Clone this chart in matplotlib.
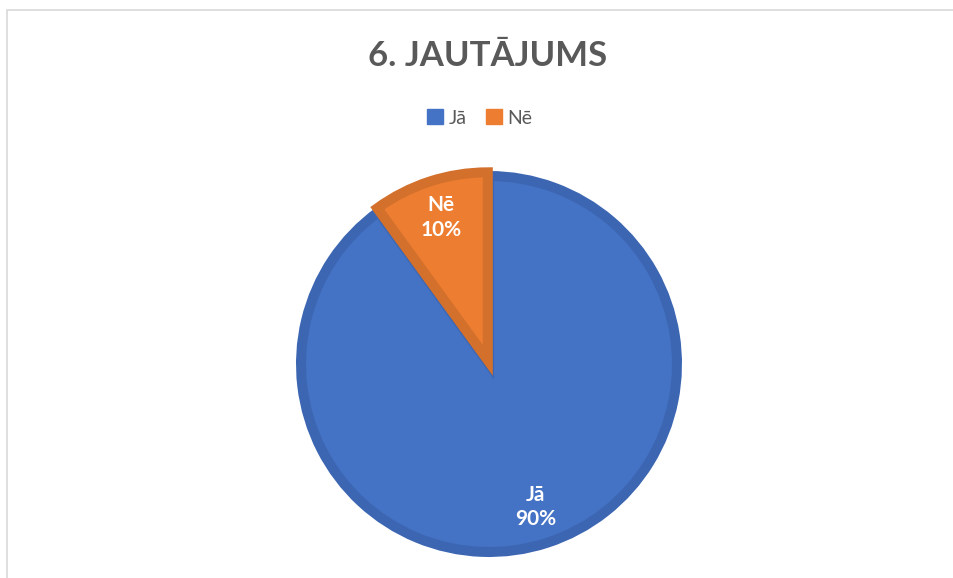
import matplotlib.pyplot as plt
from matplotlib.patches import Rectangle, Patch

plt.rcParams['font.family'] = ['Lato', 'DejaVu Sans']

labels = ["Jā", "Nē"]
values = [90, 10]
colors = ["#4472C4", "#ED7D31"]
edge_colors = ["#3C66B2", "#D2702C"]
title = "6. JAUTĀJUMS"

W, H = 954, 578
fig = plt.figure(figsize=(W / 100, H / 100), dpi=100)

# chart area frame (cut off at right and bottom)
fig.add_artist(Rectangle((7 / W, -0.1), 1.1, 1.1 - 10.5 / H,
                         transform=fig.transFigure, fill=False,
                         edgecolor="#D9D9D9", linewidth=1.2))

fig.text(488 / W, 1 - 56 / H, title, ha="center", va="center",
         fontsize=25, fontweight="bold", color="#595959")

cx, cy, R = 489, 364, 193
border_px = 10
ax = fig.add_axes([(cx - R) / W, (H - cy - R) / H, 2 * R / W, 2 * R / H])

wedges, _, texts = ax.pie(values, colors=colors, startangle=90, counterclock=False,
                          explode=[0, 0.02], radius=1 - border_px / 2 / R,
                          autopct=lambda p: "", pctdistance=0.8,
                          textprops=dict(color="white"))
for w, ec in zip(wedges, edge_colors):
    w.set_edgecolor(ec)
    w.set_linewidth(border_px * 0.72)
    w.set_joinstyle("miter")

for t, lab, v in zip(texts, labels, values):
    t.set_text(f"{lab}\n{v}%")
    t.set_fontsize(15)
    t.set_fontweight("bold")
    t.set_linespacing(1.3)
    t.set_ha("center")
    t.set_va("center")

ax.set_xlim(-1, 1)
ax.set_ylim(-1, 1)
ax.set_aspect("equal")
ax.axis("off")

handles = [Patch(facecolor=c, edgecolor=c) for c in colors]
fig.legend(handles, labels, loc="center", bbox_to_anchor=(480 / W, 1 - 118 / H),
           ncol=2, frameon=False, fontsize=14, handlelength=0.8, handleheight=0.8,
           handletextpad=0.3, columnspacing=1.0, labelcolor="#595959")

plt.savefig("out.png", dpi=100)
